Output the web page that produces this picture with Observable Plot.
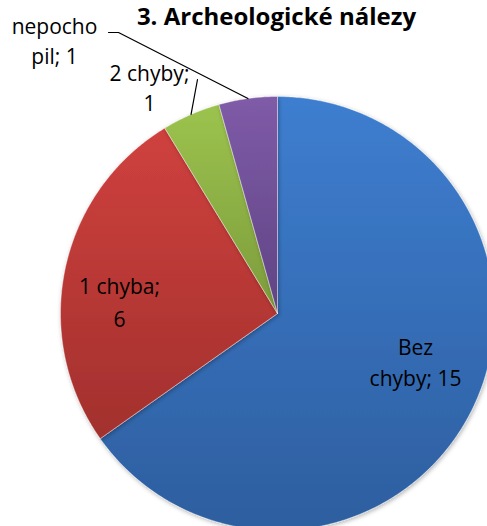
<!DOCTYPE html>
<html>
<head>
<meta charset="utf-8">
<script src="https://cdn.jsdelivr.net/npm/d3@7"></script>
<script src="https://cdn.jsdelivr.net/npm/@observablehq/plot@0.6"></script>
<style>
  html, body { margin: 0; padding: 0; background: #fff; }
  #chart { width: 487px; height: 526px; overflow: hidden; }
</style>
</head>
<body>
<div id="chart"></div>
<script>
// ---- data ----
const title = "3. Archeologické nálezy";
const categories = ["Bez chyby", "1 chyba", "2 chyby", "nepochopil"];
const values = [15, 6, 1, 1];
const labelLines = [["Bez", "chyby; 15"], ["1 chyba;", "6"], ["2 chyby;", "1"], ["nepocho", "pil; 1"]];

// ---- layout ----
const W = 487, H = 526;
const cx = 277, cy = 313, R = 217;
const topColors = ["#3e7ed0", "#cf413e", "#9cc34e", "#7f5ba8"];
const botColors = ["#2d5e9f", "#a2302d", "#7c9b3b", "#5f4483"];
const FONT = "'Open Sans', Lato, sans-serif";
const labelFs = 21;
// label centers (x) and baselines (y) of first line, per-label line spacing
const labelPos = [[415, 354], [119, 293], [149, 80], [54, 33]];
const lineGap = [31, 33, 30, 30];
// leader line starting points for outside labels (index -> points)
const leaderStart = {2: [[197, 79]], 3: [[108, 32], [118, 32]]};

const pie = d3.pie().sort(null).value(d => d.value)(
  categories.map((name, i) => ({name, value: values[i], i}))
);

function slicePoints(s) {
  const pts = [{x: cx, y: cy}];
  const n = Math.max(4, Math.ceil((s.endAngle - s.startAngle) / 0.01));
  for (let k = 0; k <= n; k++) {
    const a = s.startAngle + (s.endAngle - s.startAngle) * k / n;
    pts.push({x: cx + R * Math.sin(a), y: cy - R * Math.cos(a)});
  }
  pts.push({x: cx, y: cy});
  return pts;
}

const marks = [];
pie.forEach((s, i) => {
  marks.push(Plot.line(slicePoints(s), {
    x: "x", y: "y", fill: `url(#grad${i})`, stroke: "#ffffff", strokeWidth: 0.8, strokeOpacity: 0.5,
    curve: "linear"
  }));
});

// leader lines
pie.forEach((s, i) => {
  if (!leaderStart[i]) return;
  const mid = (s.startAngle + s.endAngle) / 2;
  const pts = leaderStart[i].map(([x, y]) => ({x, y}));
  pts.push({x: cx + R * Math.sin(mid), y: cy - R * Math.cos(mid)});
  marks.push(Plot.line(pts, {x: "x", y: "y", stroke: "#000", strokeWidth: 1.2}));
});

// labels (y given as baseline; middle anchor puts baseline at y + 0.32em)
const labelRows = [];
pie.forEach((s, i) => {
  labelLines[i].forEach((t, j) => {
    labelRows.push({x: labelPos[i][0], y: labelPos[i][1] + j * lineGap[i] - 0.32 * labelFs, text: t});
  });
});
marks.push(Plot.text(labelRows, {
  x: "x", y: "y", text: "text", fill: "#000", fontSize: labelFs,
  fontFamily: FONT, textAnchor: "middle", lineAnchor: "middle"
}));

// title
const titleFs = 24;
marks.push(Plot.text([title], {
  x: () => 276, y: () => 24 - 0.32 * titleFs, text: d => d, fontSize: titleFs, fontWeight: "bold",
  fontFamily: FONT, fill: "#000", textAnchor: "middle", lineAnchor: "middle"
}));

const svg = Plot.plot({
  width: W, height: H,
  margin: 0,
  x: {domain: [0, W], range: [0, W], axis: null},
  y: {domain: [0, H], range: [0, H], axis: null},
  style: {background: "#fff", overflow: "hidden"},
  marks
});

// gradients + shadow defs
const ns = "http://www.w3.org/2000/svg";
const defs = document.createElementNS(ns, "defs");
topColors.forEach((c, i) => {
  const g = document.createElementNS(ns, "linearGradient");
  g.setAttribute("id", `grad${i}`);
  g.setAttribute("x1", "0"); g.setAttribute("y1", "0");
  g.setAttribute("x2", "0"); g.setAttribute("y2", "1");
  const s1 = document.createElementNS(ns, "stop");
  s1.setAttribute("offset", "0"); s1.setAttribute("stop-color", c);
  const s2 = document.createElementNS(ns, "stop");
  s2.setAttribute("offset", "1"); s2.setAttribute("stop-color", botColors[i]);
  g.appendChild(s1); g.appendChild(s2);
  defs.appendChild(g);
});
const f = document.createElementNS(ns, "filter");
f.setAttribute("id", "pieShadow");
f.setAttribute("x", "-10%"); f.setAttribute("y", "-10%");
f.setAttribute("width", "120%"); f.setAttribute("height", "120%");
const ds = document.createElementNS(ns, "feDropShadow");
ds.setAttribute("dx", "1"); ds.setAttribute("dy", "1.5");
ds.setAttribute("stdDeviation", "2"); ds.setAttribute("flood-opacity", "0.3");
f.appendChild(ds);
defs.appendChild(f);
svg.insertBefore(defs, svg.firstChild);

// apply shadow to the slice groups
const groups = svg.querySelectorAll("g[aria-label='line']");
for (let k = 0; k < 4 && k < groups.length; k++) groups[k].setAttribute("filter", "url(#pieShadow)");

document.getElementById("chart").appendChild(svg);
</script>
</body>
</html>
